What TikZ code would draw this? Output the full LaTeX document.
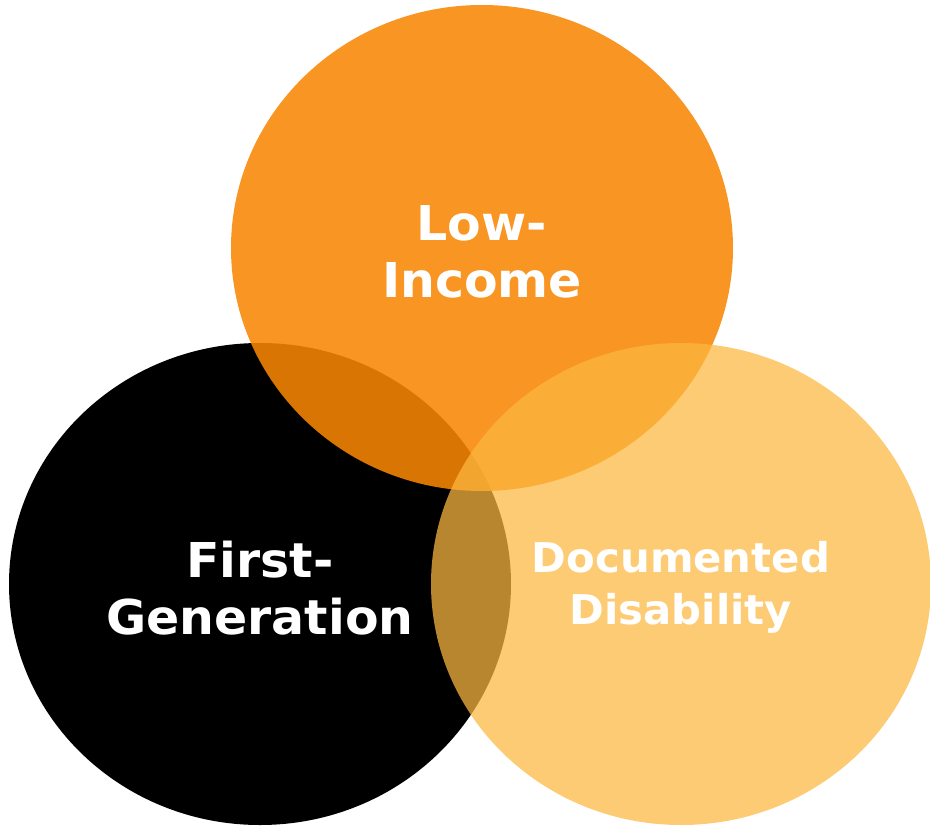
\documentclass[tikz,border=0pt]{standalone}
\usepackage{fontspec}
\setmainfont[FakeStretch=1.02]{DejaVu Sans}
\usepackage{tikz}
\usetikzlibrary{positioning}

\definecolor{topOrange}{RGB}{248,134,4}
\definecolor{lightOrange}{RGB}{252,184,64}

\begin{document}
\begin{tikzpicture}[x=1pt, y=-1pt,
    label/.style={text=white, font=\bfseries\fontsize{48}{57}\selectfont, align=center},
    smalllabel/.style={text=white, font=\bfseries\fontsize{41}{52}\selectfont, align=center}]
    \useasboundingbox (0, 0) rectangle (930, 827);

    \fill[black] (260, 584) ellipse [x radius=251, y radius=241];
    \fill[topOrange, fill opacity=.88] (482, 248) ellipse [x radius=251, y radius=243];
    \fill[lightOrange, fill opacity=.73] (681, 584) ellipse [x radius=250, y radius=241];

    \node[label] (lowincome) at (482, 252) {Low-\\Income};
    \node[label] (firstgen) at (260, 588) {First-\\Generation};
    \node[smalllabel] (disability) at (681, 587) {Documented\\Disability};
\end{tikzpicture}
\end{document}
